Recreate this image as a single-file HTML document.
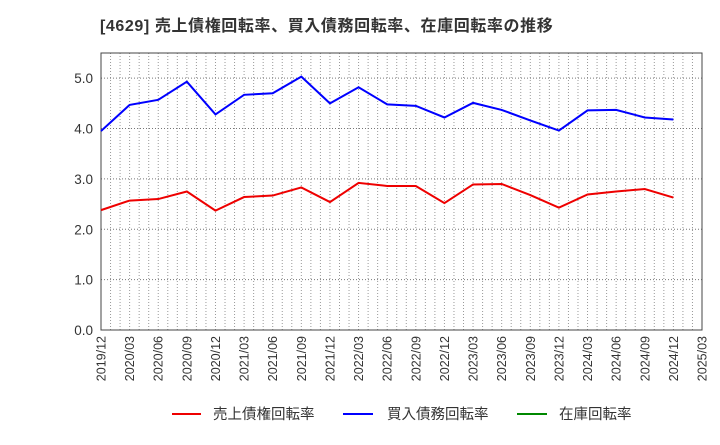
<!DOCTYPE html>
<html><head><meta charset="utf-8"><style>
body{margin:0;background:#fff;font-family:"Liberation Sans","Noto Sans CJK JP",sans-serif;}
</style></head><body>
<svg width="720" height="440" xmlns="http://www.w3.org/2000/svg">
<text x="100" y="31" font-size="16" letter-spacing="0.6" font-weight="bold" fill="#333" font-family="Liberation Sans, Noto Sans CJK JP, sans-serif">[4629]  売上債権回転率、買入債務回転率、在庫回転率の推移</text>
<g id="grid"></g><g id="axes"></g><g id="series"></g>
<g font-size="14.5" fill="#333">
<line x1="172" y1="414" x2="201" y2="414" stroke="#e00" stroke-width="2"/>
<text x="213" y="419">売上債権回転率</text>
<line x1="343" y1="414" x2="373" y2="414" stroke="#00f" stroke-width="2"/>
<text x="387" y="419">買入債務回転率</text>
<line x1="517" y1="414" x2="547" y2="414" stroke="#080" stroke-width="2"/>
<text x="559" y="419">在庫回転率</text>
</g>
</svg>
<script>
const tickLabels=["2019/12","2020/03","2020/06","2020/09","2020/12","2021/03","2021/06","2021/09","2021/12","2022/03","2022/06","2022/09","2022/12","2023/03","2023/06","2023/09","2023/12","2024/03","2024/06","2024/09","2024/12","2025/03"];
const yTicks=[0,1,2,3,4,5];
const payables=[3.95,4.47,4.57,4.93,4.28,4.67,4.70,5.03,4.50,4.82,4.48,4.45,4.22,4.51,4.37,4.16,3.96,4.36,4.37,4.22,4.18];
const receivables=[2.38,2.57,2.60,2.75,2.37,2.64,2.67,2.83,2.54,2.92,2.86,2.86,2.52,2.89,2.90,2.68,2.43,2.69,2.75,2.80,2.63];
const NS="http://www.w3.org/2000/svg";
const L=101,R=702,T=53,B=330,yMax=5.5;
const nQ=tickLabels.length-1;
const xq=i=>L+(R-L)*i/nQ;
const y=v=>B-(B-T)*v/yMax;
function mk(tag,attrs,parent){const e=document.createElementNS(NS,tag);for(const k in attrs)e.setAttribute(k,attrs[k]);parent.appendChild(e);return e;}
const grid=document.getElementById('grid'),axes=document.getElementById('axes'),series=document.getElementById('series');
for(let m=1;m<nQ*3;m++){const x=L+(R-L)*m/(nQ*3);
const g=mk('line',{x1:x,x2:x,y1:T,y2:B,stroke:'#999','stroke-dasharray':'1,2','stroke-width':1},grid);

}
yTicks.forEach(v=>{if(v>0){const g=mk('line',{x1:L,x2:R,y1:y(v),y2:y(v),stroke:'#777','stroke-dasharray':'1,2'},grid);

}
const t=mk('text',{x:L-8,y:y(v)+5,'text-anchor':'end','font-size':13.5,fill:'#333'},axes);t.textContent=v.toFixed(1);

});
const fr=mk('rect',{x:L,y:T,width:R-L,height:B-T,fill:'none',stroke:'#444'},axes);


tickLabels.forEach((s,i)=>{const x=xq(i)+4.5;const t=mk('text',{x:x,y:336,'text-anchor':'end','font-size':12.5,fill:'#333',transform:`rotate(-90 ${x} 336)`},axes);t.textContent=s;

});
function line(data,color,name){const p=mk('polyline',{points:data.map((v,i)=>xq(i)+','+y(v)).join(' '),fill:'none',stroke:color,'stroke-width':2},series);

}
line(receivables,'#e00','receivables-turnover-line');
line(payables,'#00f','payables-turnover-line');
</script>
</body></html>
